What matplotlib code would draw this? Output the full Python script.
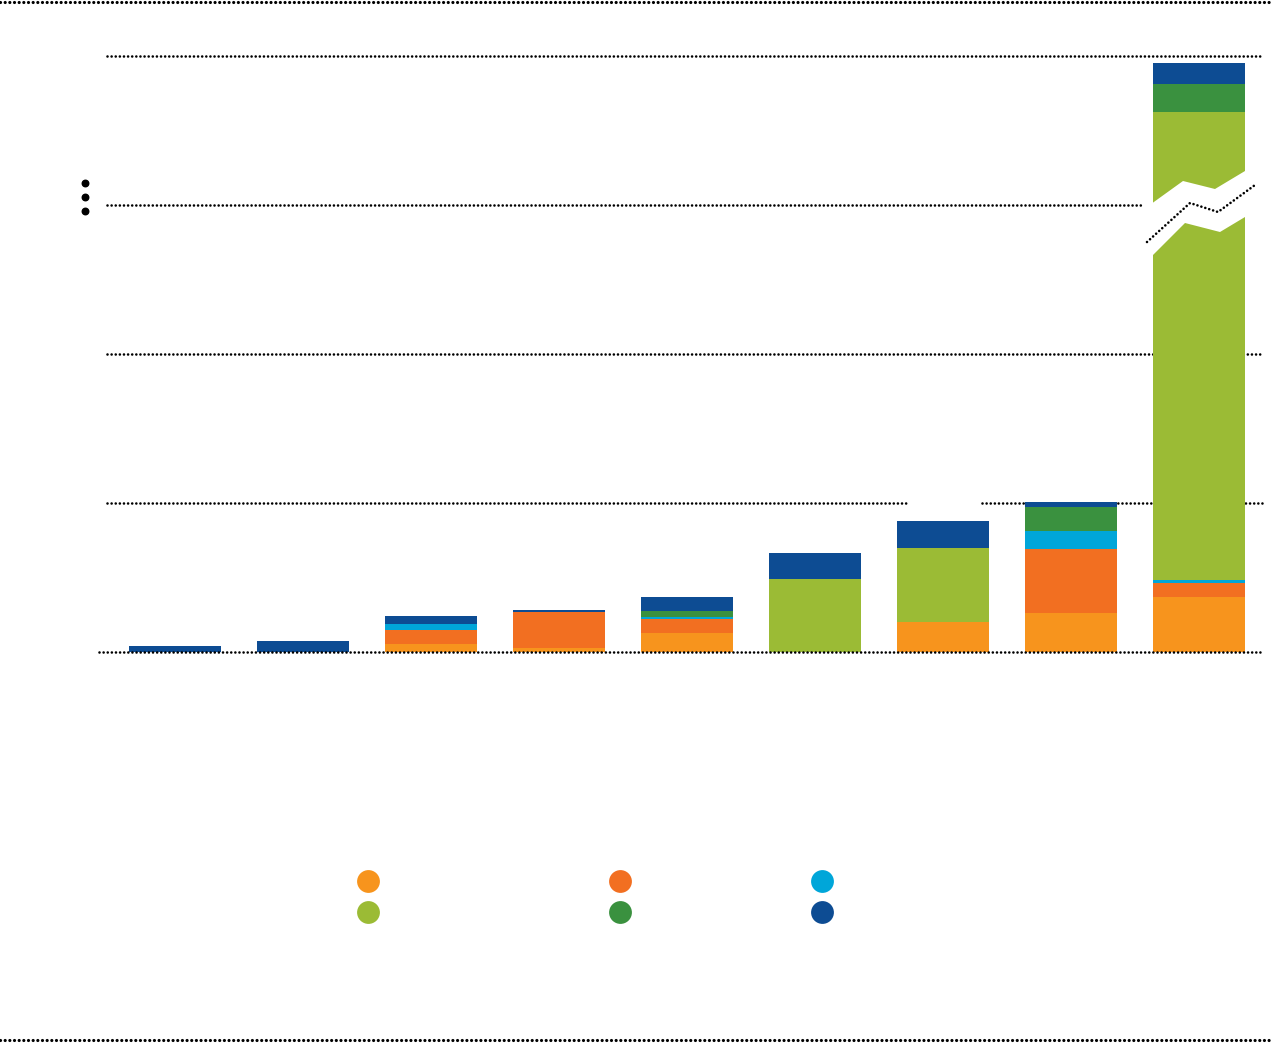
import matplotlib.pyplot as plt
import numpy as np

# stacked values per column (displayed heights, one gridline step = 10)
light_orange = [0.0, 0.0, 0.54, 0.27, 1.28, 0.0, 2.0, 2.6, 3.7]
orange = [0.0, 0.0, 0.94, 2.42, 0.94, 0.0, 0.0, 4.3, 0.94]
cyan = [0.0, 0.0, 0.4, 0.0, 0.13, 0.0, 0.0, 1.2, 0.2]
light_green = [0.0, 0.0, 0.0, 0.0, 0.0, 4.9, 4.97, 0.0, 31.4]
dark_green = [0.0, 0.0, 0.0, 0.0, 0.4, 0.0, 0.0, 1.6, 1.88]
navy = [0.4, 0.74, 0.54, 0.13, 0.94, 1.74, 1.81, 0.34, 1.41]

series = [light_orange, orange, cyan, light_green, dark_green, navy]
colors = ['#F7941D', '#F26F21', '#00A6D9', '#9BBB35', '#3A913F', '#0D4C93']
gridlines = [10, 20, 30, 40]

# pixel geometry of the original -> data units
W, H = 1272, 1044
x0px, xstep = 175, 128
y0px, ystep = 652, 14.9

def px_x(p):
    return (p - x0px) / xstep

def px_y(p):
    return (y0px - p) / ystep

fig = plt.figure(figsize=(W / 100, H / 100), dpi=100)
ax = fig.add_axes([0, 0, 1, 1])
ax.set_xlim(px_x(0), px_x(W))
ax.set_ylim(px_y(H), px_y(0))
ax.axis('off')

dot = dict(color='black', linestyle=(0, (0.01, 1.55)), dash_capstyle='round', lw=1.9)
frame = dict(color='black', linestyle=(0, (0.01, 1.45)), dash_capstyle='round', lw=2.3)

# frame lines top and bottom
ax.plot([px_x(0), px_x(W)], [px_y(2), px_y(2)], **frame)
ax.plot([px_x(0), px_x(W)], [px_y(1040), px_y(1040)], **frame)

# bars
x = np.arange(len(navy))
bottom = np.zeros(len(x))
for vals, c in zip(series, colors):
    vals = np.array(vals)
    ax.bar(x, vals, 0.72, bottom=bottom, color=c, zorder=3, linewidth=0)
    bottom += vals

# gridlines
left, right = px_x(107), px_x(1262)
for g in gridlines:
    if g == 10:
        ax.plot([left, px_x(907)], [g, g], zorder=1, **dot)
        ax.plot([px_x(982), right], [g, g], zorder=1, **dot)
    elif g == 30:
        ax.plot([left, px_x(1143)], [g, g], zorder=1, **dot)
    else:
        ax.plot([left, right], [g, g], zorder=1, **dot)
ax.plot([px_x(99), right], [0, 0], zorder=4, **dot)

# axis break on the last column
upper = [(1140, 212), (1183, 181), (1215, 189), (1260, 162)]
lower = [(1260, 208), (1220, 232), (1185, 223), (1140, 268)]
poly = [(px_x(a), px_y(b)) for a, b in upper + lower]
ax.add_patch(plt.Polygon(poly, closed=True, color='white', zorder=5, lw=0))
zz = [(1147, 242), (1190, 203), (1218, 212), (1255, 185)]
ax.plot([px_x(a) for a, b in zz], [px_y(b) for a, b in zz], zorder=6, **dot)

# vertical ellipsis
ax.scatter([px_x(85)] * 3, [px_y(183), px_y(197), px_y(211)], s=22, color='black', zorder=6)

# legend markers
leg_x = [368, 620, 822]
leg_y = [881, 912]
order = [[0, 1, 2], [3, 4, 5]]
for r, row in enumerate(order):
    for cidx, k in enumerate(row):
        ax.scatter(px_x(leg_x[cidx]), px_y(leg_y[r]), s=270, color=colors[k], zorder=6, lw=0)

fig.savefig('out.png', dpi=100)
